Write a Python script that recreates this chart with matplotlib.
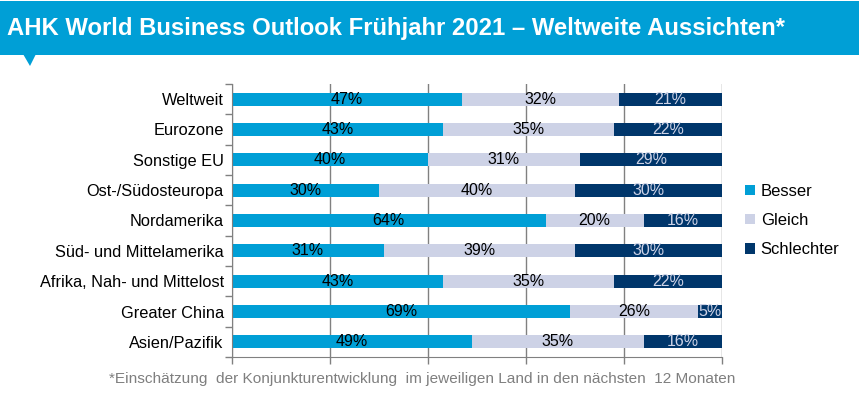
import numpy as np
import matplotlib.pyplot as plt
from matplotlib.patches import Rectangle, Polygon

plt.rcParams['font.family'] = ['Liberation Sans', 'DejaVu Sans']

regions = ['Weltweit', 'Eurozone', 'Sonstige EU', 'Ost-/Südosteuropa', 'Nordamerika',
           'Süd- und Mittelamerika', 'Afrika, Nah- und Mittelost', 'Greater China', 'Asien/Pazifik']
besser = [47, 43, 40, 30, 64, 31, 43, 69, 49]
gleich = [32, 35, 31, 40, 20, 39, 35, 26, 35]
schlechter = [21, 22, 29, 30, 16, 30, 22, 5, 16]

c_besser = '#009FD6'
c_gleich = '#CDD2E6'
c_schlechter = '#00366B'

W, H = 859, 396
fig = plt.figure(figsize=(W / 100, H / 100), dpi=100)

# title banner
banner = fig.add_axes([0, 0, 1, 1], zorder=0)
banner.set_xlim(0, W)
banner.set_ylim(H, 0)
banner.axis('off')
banner.add_patch(Rectangle((0, 1), W, 54, color=c_besser, lw=0))
banner.add_patch(Polygon([[23, 54], [36, 54], [30, 66]], closed=True, color=c_besser, lw=0))
banner.text(7, 28, 'AHK World Business Outlook Frühjahr 2021 – Weltweite Aussichten*',
            color='white', fontsize=17.2, fontweight='bold', va='center', ha='left')
banner.text(422, 379, '*Einschätzung  der Konjunkturentwicklung  im jeweiligen Land in den nächsten  12 Monaten',
            color='#7F7F7F', fontsize=11.1, va='center', ha='center')

ax = fig.add_axes([232 / W, 1 - 357 / H, (722 - 232) / W, (357 - 84) / H], zorder=1)
ax.patch.set_alpha(0)
y = np.arange(len(regions))
h = 0.42
b1 = ax.barh(y, besser, height=h, color=c_besser, label='Besser', zorder=2)
b2 = ax.barh(y, gleich, left=besser, height=h, color=c_gleich, label='Gleich', zorder=2)
left3 = np.array(besser) + np.array(gleich)
b3 = ax.barh(y, schlechter, left=left3, height=h, color=c_schlechter, label='Schlechter', zorder=2)

for bars, vals, col in [(b1, besser, 'black'), (b2, gleich, 'black'), (b3, schlechter, c_gleich)]:
    for rect, v in zip(bars, vals):
        ax.text(rect.get_x() + rect.get_width() / 2, rect.get_y() + rect.get_height() / 2,
                f'{v}%', ha='center', va='center', color=col, fontsize=11.5, zorder=3)

ax.set_xlim(0, 100)
ax.set_ylim(len(regions) - 0.5, -0.5)
ax.set_xticks(np.arange(0, 101, 20))
ax.set_xticklabels([])
ax.set_yticks(y)
ax.set_yticklabels(regions, fontsize=11.8)
ax.set_yticks(np.arange(-0.5, len(regions), 1), minor=True)
ax.tick_params(axis='y', which='major', length=0, pad=6)
ax.tick_params(axis='y', which='minor', length=5, color='#808080', width=1)
ax.tick_params(axis='x', length=5, color='#808080', width=1)
ax.grid(axis='x', color='#808080', lw=1, zorder=0)
for s in ['top', 'right']:
    ax.spines[s].set_visible(False)
for s in ['left', 'bottom']:
    ax.spines[s].set_color('#808080')

ax.legend(handles=[b1, b2, b3], loc='center left', bbox_to_anchor=(1.016, 0.5),
          frameon=False, fontsize=12, handlelength=0.6, handleheight=0.6,
          labelspacing=0.85, handletextpad=0.35)

fig.savefig('out.png', dpi=100)
